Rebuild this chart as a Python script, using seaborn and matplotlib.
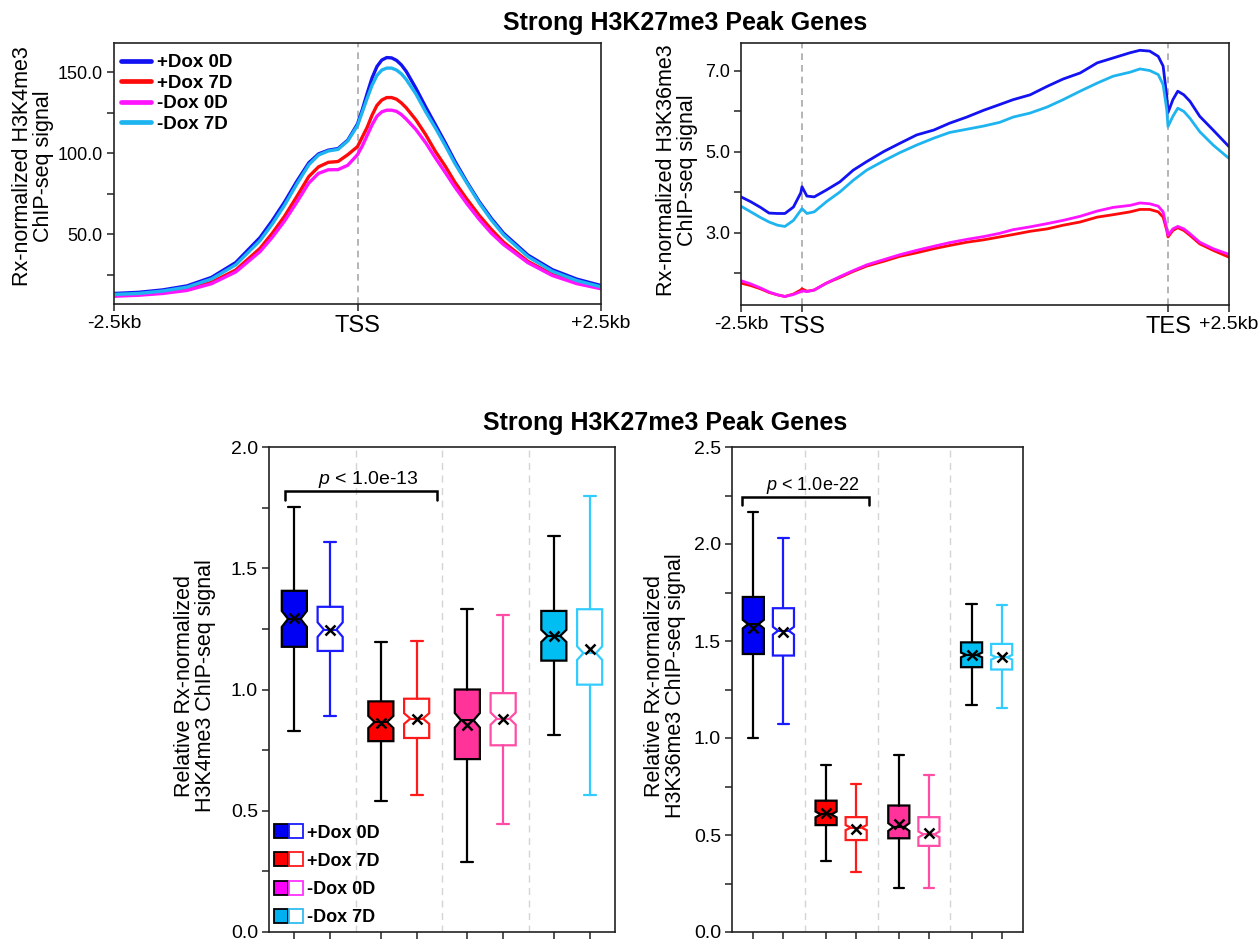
import numpy as np
import pandas as pd
import matplotlib
matplotlib.use("Agg")
import matplotlib.pyplot as plt
from matplotlib.lines import Line2D
from matplotlib.legend_handler import HandlerTuple
from matplotlib.ticker import FixedLocator, FuncFormatter
import seaborn as sns

sns.set_theme(style="white")
plt.rcParams["font.family"] = ["Liberation Sans", "DejaVu Sans"]
plt.rcParams["text.color"] = "black"
plt.rcParams["mathtext.fontset"] = "custom"
plt.rcParams["mathtext.it"] = "Liberation Sans:italic"
plt.rcParams["mathtext.rm"] = "Liberation Sans"

samples = ["+Dox 0D", "+Dox 7D", "-Dox 0D", "-Dox 7D"]
line_colors = ["#1212F2", "#FF0A0A", "#FF14FF", "#1EB4F0"]

# ---------------- H3K4me3 profile around the TSS (kb) ----------------
k4_pos = [-2.5, -2.25, -2.0, -1.75, -1.5, -1.25, -1.0, -0.875, -0.75, -0.625,
          -0.5, -0.4, -0.3, -0.2, -0.1, 0.0, 0.05, 0.1, 0.15, 0.2,
          0.25, 0.3, 0.35, 0.4, 0.45, 0.5, 0.6, 0.7, 0.8, 0.9,
          1.0, 1.125, 1.25, 1.375, 1.5, 1.75, 2.0, 2.25, 2.5]
k4_plus0 = [13.3, 14.0, 15.5, 18.0, 23.2, 32.4, 47.9, 58.3, 69.7, 82.4,
            94.0, 99.5, 101.8, 102.8, 108.0, 118.0, 127.0, 137.0, 146.5, 153.5,
            157.5, 159.0, 158.8, 157.3, 154.5, 150.5, 140.0, 128.5, 117.5, 106.5,
            95.0, 82.0, 70.0, 59.6, 50.5, 37.0, 28.0, 22.2, 18.2]
k4_plus7 = [12.0, 12.6, 13.8, 15.9, 20.2, 27.8, 41.2, 50.5, 60.9, 73.0,
            85.5, 91.5, 94.3, 94.8, 99.0, 104.0, 110.0, 116.0, 123.5, 129.5,
            132.8, 134.3, 134.3, 133.3, 131.0, 128.0, 120.5, 111.4, 101.0, 92.0,
            82.0, 71.4, 61.5, 52.8, 45.0, 33.1, 25.1, 20.2, 16.8]
k4_minus0 = [11.6, 12.2, 13.3, 15.2, 19.3, 26.6, 39.2, 48.0, 58.0, 69.5,
             81.5, 87.5, 89.7, 89.8, 92.5, 99.0, 104.5, 111.0, 117.5, 122.8,
             125.5, 126.5, 126.5, 125.8, 123.8, 121.0, 114.5, 106.4, 97.0, 88.1,
             79.0, 68.6, 59.0, 50.5, 43.5, 32.3, 24.4, 19.4, 16.2]
k4_minus7 = [12.7, 13.3, 14.8, 17.2, 22.2, 31.0, 46.0, 56.2, 67.7, 80.7,
             92.8, 98.8, 101.3, 102.3, 107.5, 117.0, 125.5, 134.0, 142.0, 148.0,
             151.3, 152.5, 152.5, 151.3, 149.0, 145.5, 136.5, 125.5, 115.5, 104.8,
             93.6, 81.3, 69.2, 58.6, 49.5, 36.0, 27.0, 21.3, 17.4]

# ---------------- H3K36me3 scaled gene-body profile (bins) ----------------
# 0-50: upstream 2.5 kb, 50-350: TSS..TES, 350-400: downstream 2.5 kb
k36_pos = [0, 8, 16, 23, 30, 36, 43, 49, 50, 54,
           60, 70, 81, 92, 103, 117, 130, 144, 158, 171,
           185, 199, 212, 223, 237, 251, 264, 278, 292, 305,
           319, 327, 335, 342, 346, 349, 350, 354, 358, 363,
           368, 376, 387, 400]
k36_plus0 = [3.89, 3.77, 3.63, 3.49, 3.48, 3.48, 3.64, 3.99, 4.14, 3.91,
             3.89, 4.06, 4.26, 4.55, 4.76, 5.01, 5.21, 5.42, 5.54, 5.71,
             5.86, 6.03, 6.17, 6.29, 6.41, 6.62, 6.80, 6.95, 7.20, 7.32,
             7.45, 7.51, 7.49, 7.36, 7.12, 6.37, 5.97, 6.29, 6.50, 6.41,
             6.25, 5.88, 5.54, 5.13]
k36_plus7 = [1.76, 1.70, 1.62, 1.53, 1.47, 1.43, 1.49, 1.59, 1.62, 1.56,
             1.59, 1.76, 1.90, 2.05, 2.18, 2.30, 2.42, 2.51, 2.61, 2.69,
             2.77, 2.83, 2.90, 2.96, 3.04, 3.10, 3.19, 3.27, 3.39, 3.45,
             3.52, 3.58, 3.58, 3.52, 3.39, 3.06, 2.90, 3.06, 3.13, 3.06,
             2.94, 2.73, 2.57, 2.40]
k36_minus0 = [1.82, 1.74, 1.64, 1.54, 1.47, 1.43, 1.48, 1.55, 1.57, 1.55,
              1.59, 1.76, 1.92, 2.07, 2.21, 2.34, 2.46, 2.57, 2.67, 2.76,
              2.84, 2.91, 2.99, 3.08, 3.15, 3.23, 3.31, 3.41, 3.54, 3.63,
              3.68, 3.74, 3.72, 3.66, 3.52, 3.10, 2.94, 3.10, 3.16, 3.10,
              2.98, 2.77, 2.61, 2.47]
k36_minus7 = [3.66, 3.52, 3.38, 3.27, 3.19, 3.16, 3.31, 3.56, 3.60, 3.48,
              3.52, 3.77, 4.01, 4.30, 4.55, 4.78, 4.98, 5.17, 5.34, 5.48,
              5.56, 5.64, 5.73, 5.86, 5.96, 6.11, 6.29, 6.50, 6.70, 6.87,
              6.97, 7.05, 7.01, 6.91, 6.66, 6.04, 5.63, 5.88, 6.08, 6.00,
              5.83, 5.50, 5.17, 4.84]

# ---------------- box summaries (relative signal) ----------------
# order: +Dox 0D, +Dox 7D, -Dox 0D, -Dox 7D; each as (filled, open) pair
k4_low = [0.828, 0.889, 0.542, 0.564, 0.288, 0.445, 0.811, 0.566]
k4_q1 = [1.176, 1.159, 0.787, 0.800, 0.713, 0.770, 1.119, 1.020]
k4_med = [1.291, 1.247, 0.866, 0.880, 0.873, 0.880, 1.221, 1.150]
k4_q3 = [1.407, 1.341, 0.951, 0.962, 1.000, 0.985, 1.324, 1.331]
k4_high = [1.751, 1.607, 1.197, 1.201, 1.333, 1.309, 1.634, 1.798]
k4_mean = [1.294, 1.246, 0.863, 0.877, 0.855, 0.880, 1.221, 1.169]
k4_notch = [0.033, 0.030, 0.025, 0.022, 0.030, 0.025, 0.025, 0.028]

k36_low = [0.998, 1.070, 0.367, 0.307, 0.225, 0.225, 1.169, 1.155]
k36_q1 = [1.433, 1.425, 0.551, 0.474, 0.483, 0.444, 1.365, 1.353]
k36_med = [1.587, 1.553, 0.606, 0.538, 0.541, 0.503, 1.428, 1.416]
k36_q3 = [1.727, 1.669, 0.677, 0.592, 0.652, 0.592, 1.493, 1.485]
k36_high = [2.167, 2.031, 0.862, 0.763, 0.910, 0.811, 1.693, 1.684]
k36_mean = [1.567, 1.544, 0.611, 0.529, 0.558, 0.509, 1.428, 1.416]
k36_notch = [0.022, 0.020, 0.015, 0.013, 0.020, 0.015, 0.012, 0.012]

box_fill = ["#0000F5", "#FF0000", "#FF3399", "#00BEF2"]
box_open = ["#1A1AFF", "#FF1A1A", "#FF4DA6", "#33CCFF"]
legend_fill = ["#0000F5", "#FF0000", "#FF00FF", "#00B0F0"]
legend_open = ["#1A1AFF", "#FF1A1A", "#FF33FF", "#33BBF0"]

W, H = 1260, 941
fig = plt.figure(figsize=(W / 100, H / 100), dpi=100)


def rect(x0, y0, x1, y1):
    return [x0 / W, 1 - y1 / H, (x1 - x0) / W, (y1 - y0) / H]


def style_axes(ax, labelsize):
    for sp in ax.spines.values():
        sp.set_visible(True)
        sp.set_color("#222222")
        sp.set_linewidth(1.2)
    ax.tick_params(axis="both", which="both", direction="out", length=5,
                   width=1.1, color="#222222", labelsize=labelsize, pad=3,
                   bottom=True, left=True, labelcolor="black")
    ax.set_xlabel("")
    ax.set_ylabel("")


# ---------------- top-left: H3K4me3 ----------------
ax1 = fig.add_axes(rect(114, 43, 601, 304))
df_k4 = pd.DataFrame({
    "pos": k4_pos * 4,
    "signal": k4_plus0 + k4_plus7 + k4_minus0 + k4_minus7,
    "sample": np.repeat(samples, len(k4_pos)),
})
ax1.axvline(0, color="#A8A8A8", ls=(0, (4, 3)), lw=1.2, zorder=0)
sns.lineplot(data=df_k4, x="pos", y="signal", hue="sample", hue_order=samples,
             palette=line_colors, linewidth=2.4, legend=False, ax=ax1)
ax1.set_xlim(-2.5, 2.5)
ax1.set_ylim(6.8, 168)
ax1.yaxis.set_major_locator(FixedLocator([25, 50, 75, 100, 125, 150]))
ax1.yaxis.set_major_formatter(FuncFormatter(lambda v, p: f"{v:.1f}" if v % 50 == 0 else ""))
ax1.set_xticks([-2.5, 0, 2.5])
ax1.set_xticklabels(["-2.5kb", "TSS", "+2.5kb"])
style_axes(ax1, 13)
for lab in ax1.get_xticklabels():
    lab.set_fontsize(14)
ax1.get_xticklabels()[1].set_fontsize(17)
ax1.legend(
    handles=[Line2D([], [], color=c, lw=3.4) for c in line_colors],
    labels=samples, loc="upper left", bbox_to_anchor=(0.014, 0.958),
    frameon=False, prop=dict(weight="bold", size=13.5), handlelength=1.6,
    handletextpad=0.35, labelspacing=0.18, borderpad=0, borderaxespad=0)

# ---------------- top-right: H3K36me3 ----------------
ax2 = fig.add_axes(rect(741, 43, 1229, 305))
df_k36 = pd.DataFrame({
    "pos": k36_pos * 4,
    "signal": k36_plus0 + k36_plus7 + k36_minus0 + k36_minus7,
    "sample": np.repeat(samples, len(k36_pos)),
})
for xv in (50, 350):
    ax2.axvline(xv, color="#A8A8A8", ls=(0, (4, 3)), lw=1.2, zorder=0)
sns.lineplot(data=df_k36, x="pos", y="signal", hue="sample", hue_order=samples,
             palette=line_colors, linewidth=2.0, legend=False, ax=ax2)
ax2.set_xlim(0, 400)
ax2.set_ylim(1.22, 7.69)
ax2.yaxis.set_major_locator(FixedLocator([2, 3, 4, 5, 6, 7]))
ax2.yaxis.set_major_formatter(FuncFormatter(lambda v, p: f"{v:.1f}" if round(v) % 2 == 1 else ""))
ax2.set_xticks([0, 50, 350, 400])
ax2.set_xticklabels(["-2.5kb", "TSS", "TES", "+2.5kb"])
style_axes(ax2, 13)
for i, lab in enumerate(ax2.get_xticklabels()):
    lab.set_fontsize(17 if i in (1, 2) else 14)

fig.text(33 / W, 1 - 166 / H, "Rx-normalized H3K4me3\nChIP-seq signal",
         rotation=90, ha="center", va="center", fontsize=15.5, linespacing=1.0)
fig.text(677 / W, 1 - 170 / H, "Rx-normalized H3K36me3\nChIP-seq signal",
         rotation=90, ha="center", va="center", fontsize=15.5, linespacing=1.0)
fig.text(685 / W, 1 - 23 / H, "Strong H3K27me3 Peak Genes", ha="center",
         va="center", fontsize=18, weight="bold")
fig.text(665 / W, 1 - 423 / H, "Strong H3K27me3 Peak Genes", ha="center",
         va="center", fontsize=18, weight="bold")

# ---------------- bottom: box plots ----------------
box_positions = [g + off for g in range(4) for off in (-0.207, 0.207)]


def draw_boxes(ax, low, q1, med, q3, high, mean, notch):
    for sep in (0.5, 1.5, 2.5):
        ax.axvline(sep, color="#D4D4D4", ls=(0, (5, 4)), lw=1.0, zorder=0)
    for i, pos in enumerate(box_positions):
        g = i // 2
        filled = i % 2 == 0
        edge = "black" if filled else box_open[g]
        face = box_fill[g] if filled else "white"
        stats = [dict(med=med[i], q1=q1[i], q3=q3[i], whislo=low[i],
                      whishi=high[i], mean=mean[i], cilo=med[i] - notch[i],
                      cihi=med[i] + notch[i], fliers=[])]
        ax.bxp(stats, positions=[pos], widths=0.29, capwidths=0.14,
               patch_artist=True, shownotches=True, showmeans=True,
               showfliers=False, manage_ticks=False,
               boxprops=dict(facecolor=face, edgecolor=edge, linewidth=1.6),
               medianprops=dict(color=edge, linewidth=1.4),
               whiskerprops=dict(color=edge, linewidth=1.6),
               capprops=dict(color=edge, linewidth=1.6),
               meanprops=dict(marker="x", markeredgecolor="black",
                              markersize=7, markeredgewidth=1.8,
                              linestyle="none"))
    ax.set_xlim(-0.5, 3.5)
    ax.set_xticks(box_positions)
    ax.set_xticklabels([])


def bracket(ax, x0, x1, y, drop, text, fs):
    ax.plot([x0, x0, x1, x1], [y - drop, y, y, y - drop], color="black",
            lw=1.8, solid_joinstyle="miter", clip_on=False)
    ax.text((x0 + x1) / 2 + 0.09, y + drop * 1.35, text, ha="center",
            va="center", fontsize=fs)


ax3 = fig.add_axes(rect(269, 447, 615, 932))
draw_boxes(ax3, k4_low, k4_q1, k4_med, k4_q3, k4_high, k4_mean, k4_notch)
ax3.set_ylim(0, 2.0)
ax3.yaxis.set_major_locator(FixedLocator(np.arange(0, 2.01, 0.25)))
ax3.yaxis.set_major_formatter(FuncFormatter(lambda v, p: f"{v:.1f}" if abs(v * 2 - round(v * 2)) < 1e-6 else ""))
style_axes(ax3, 14)
bracket(ax3, -0.32, 1.447, 1.817, 0.036, r"$\it{p}$ < 1.0e-13", 14)

legend_handles = [
    (Line2D([], [], ls="none", marker="s", ms=9.4, mfc=f, mec="black", mew=1.3),
     Line2D([], [], ls="none", marker="s", ms=9.4, mfc="white", mec=o, mew=1.3))
    for f, o in zip(legend_fill, legend_open)
]
ax3.legend(legend_handles, samples, handler_map={tuple: HandlerTuple(ndivide=None, pad=0.0)},
           loc="lower left", bbox_to_anchor=(0.012, 0.012), frameon=False,
           prop=dict(weight="bold", size=13), handlelength=1.7,
           handletextpad=0.15, labelspacing=0.62, borderpad=0, borderaxespad=0)

ax4 = fig.add_axes(rect(732, 447, 1023, 932))
draw_boxes(ax4, k36_low, k36_q1, k36_med, k36_q3, k36_high, k36_mean, k36_notch)
ax4.set_ylim(0, 2.5)
ax4.yaxis.set_major_locator(FixedLocator(np.arange(0, 2.51, 0.25)))
ax4.yaxis.set_major_formatter(FuncFormatter(lambda v, p: f"{v:.1f}" if abs(v * 2 - round(v * 2)) < 1e-6 else ""))
style_axes(ax4, 14)
bracket(ax4, -0.36, 1.39, 2.244, 0.044, r"$\it{p}$ < 1.0e-22", 13)

fig.text(195 / W, 1 - 686 / H, "Relative Rx-normalized\nH3K4me3 ChIP-seq signal",
         rotation=90, ha="center", va="center", fontsize=15.5, linespacing=1.0)
fig.text(665 / W, 1 - 686 / H, "Relative Rx-normalized\nH3K36me3 ChIP-seq signal",
         rotation=90, ha="center", va="center", fontsize=15.5, linespacing=1.0)

fig.savefig("out.png", dpi=100, facecolor="white")
